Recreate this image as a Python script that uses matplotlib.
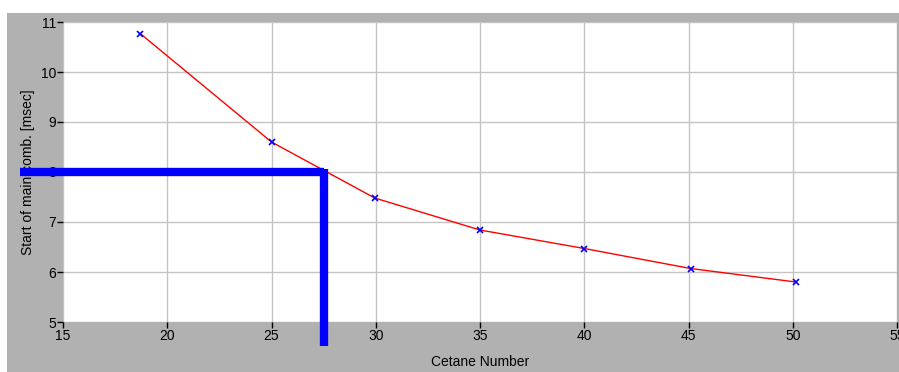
import numpy as np
import matplotlib.pyplot as plt
from matplotlib.patches import Rectangle

# data
cetane = [18.7, 25.0, 29.95, 35.0, 40.0, 45.1, 50.15]
start_comb = [10.77, 8.6, 7.48, 6.84, 6.47, 6.07, 5.8]

# marked reading: cetane 27.5 -> 8 msec
mark_x = 27.5
mark_y = 8.0

x_ticks = [15, 20, 25, 30, 35, 40, 45, 50, 55]
y_ticks = [5, 6, 7, 8, 9, 10, 11]

plt.rcParams['font.family'] = ['Liberation Sans', 'DejaVu Sans']

W, H = 899, 372
fig = plt.figure(figsize=(W / 100, H / 100), dpi=100)
fig.patch.set_facecolor('white')

# gray frame behind the plot
fig.patches.append(Rectangle((7 / W, 0), 1 - 7 / W, (H - 13) / H,
                             transform=fig.transFigure, facecolor='#b1b1b1',
                             edgecolor='none', zorder=-10))

ax = fig.add_axes([63 / W, (H - 322) / H, (897 - 63) / W, 300 / H])
ax.set_facecolor('white')
ax.set_xlim(15, 55)
ax.set_ylim(5, 11)
ax.set_xticks(x_ticks)
ax.set_yticks(y_ticks)
ax.grid(True, color='#c4c4c4', linewidth=1)
ax.set_axisbelow(True)
for s in ax.spines.values():
    s.set_visible(False)
ax.tick_params(length=4, width=1, color='black', labelsize=10, pad=1)

ax.plot(cetane, start_comb, color='red', linewidth=1, zorder=3)
ax.plot(cetane, start_comb, linestyle='none', marker='x', color='blue',
        markersize=4, markeredgewidth=1.2, zorder=4)

# thick blue reading lines, running out of the plot area
ax.plot([12.95, mark_x], [mark_y, mark_y], color='blue', linewidth=6,
        solid_capstyle='butt', clip_on=False, zorder=5)
ax.plot([mark_x, mark_x], [mark_y + 0.07, 4.52], color='blue', linewidth=6,
        solid_capstyle='butt', clip_on=False, zorder=5)

ax.set_xlabel('Cetane Number', fontsize=10, labelpad=9)
ax.set_ylabel('Start of main comb. [msec]', fontsize=10, labelpad=4)

fig.savefig('out.png', dpi=100)
